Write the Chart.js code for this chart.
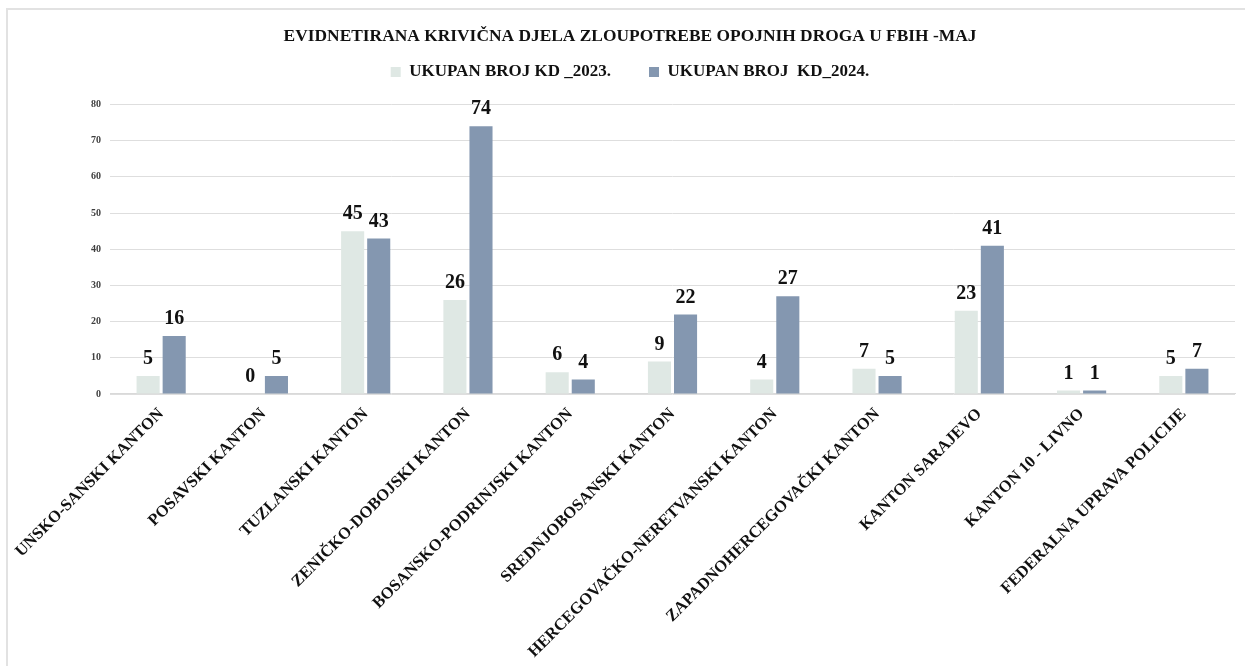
<!DOCTYPE html>
<html>
<head>
<meta charset="utf-8">
<script src="https://cdn.jsdelivr.net/npm/chart.js@4/dist/chart.umd.min.js"></script>
<style>
  html, body { margin: 0; padding: 0; background: #fff; overflow: hidden; }
  #frame { position: absolute; left: 6px; top: 8px; width: 1300px; height: 720px; border: 2px solid #e2e2e2; }
  #myChart { position: absolute; left: 0; top: 0; }
</style>
</head>
<body>
<div id="frame"></div>
<canvas id="myChart" width="1245" height="666"></canvas>
<script>
const categories = [
  'UNSKO-SANSKI KANTON', 'POSAVSKI KANTON', 'TUZLANSKI KANTON', 'ZENIČKO-DOBOJSKI KANTON',
  'BOSANSKO-PODRINJSKI KANTON', 'SREDNJOBOSANSKI KANTON', 'HERCEGOVAČKO-NERETVANSKI KANTON',
  'ZAPADNOHERCEGOVAČKI KANTON', 'KANTON SARAJEVO', 'KANTON 10 - LIVNO', 'FEDERALNA UPRAVA POLICIJE'
];
const kd2023 = [5, 0, 45, 26, 6, 9, 4, 7, 23, 1, 5];
const kd2024 = [16, 5, 43, 74, 4, 22, 27, 5, 41, 1, 7];
const yTicks = [0, 10, 20, 30, 40, 50, 60, 70, 80];

const serif = "'Liberation Serif', 'DejaVu Serif', serif";

// draws the numbers above the bars
const valueLabels = {
  id: 'valueLabels',
  afterDatasetsDraw(chart) {
    const ctx = chart.ctx;
    ctx.save();
    ctx.font = 'bold 20px ' + serif;
    ctx.fillStyle = '#111';
    ctx.textAlign = 'center';
    ctx.textBaseline = 'bottom';
    chart.data.datasets.forEach((ds, i) => {
      chart.getDatasetMeta(i).data.forEach((bar, j) => {
        ctx.fillText(ds.data[j], bar.x, bar.y - 7);
      });
    });
    ctx.restore();
  }
};

const ctx = document.getElementById('myChart').getContext('2d');
const chart = new Chart(ctx, {
  type: 'bar',
  data: {
    labels: categories,
    datasets: [{
      label: 'UKUPAN BROJ KD _2023.',
      backgroundColor: '#dfe8e4',
      data: kd2023
    }, {
      label: 'UKUPAN BROJ  KD_2024.',
      backgroundColor: '#8497b0',
      data: kd2024
    }]
  },
  options: {
    responsive: false,
    animation: false,
    categoryPercentage: 0.51,
    barPercentage: 0.885,
    layout: { padding: { top: 26, left: 25, right: 10, bottom: 0 } },
    plugins: {
      title: {
        display: true,
        text: 'EVIDNETIRANA KRIVIČNA DJELA ZLOUPOTREBE OPOJNIH DROGA U FBIH -MAJ',
        color: '#111',
        font: { family: serif, size: 17.4, weight: 'bold' },
        padding: { top: 0, bottom: -21.5 }
      },
      // empty subtitle used as a spacer between legend and plot
      subtitle: {
        display: true,
        text: '',
        weight: 500,
        font: { size: 10 },
        padding: { top: 0, bottom: 1.5 }
      },
      legend: {
        labels: {
          color: '#111',
          font: { family: serif, size: 17, weight: 'bold' },
          boxWidth: 10,
          boxHeight: 10,
          padding: 38
        }
      },
      tooltip: { enabled: false }
    },
    scales: {
      x: {
        grid: { display: false },
        border: { color: '#d9d9d9' },
        ticks: {
          color: '#111',
          font: { family: serif, size: 16.5, weight: 'bold' },
          minRotation: 45,
          maxRotation: 45,
          autoSkip: false
        },
        afterFit(scale) { scale.height = 272; }
      },
      y: {
        min: 0,
        max: 80,
        afterBuildTicks(scale) { scale.ticks = yTicks.map(v => ({ value: v })); },
        grid: { color: '#dedede', drawTicks: false },
        border: { display: false },
        ticks: {
          color: '#404040',
          font: { family: serif, size: 10, weight: 'bold' },
          padding: 9
        },
        afterFit(scale) { scale.width = 85; }
      }
    }
  },
  plugins: [valueLabels]
});
</script>
</body>
</html>
